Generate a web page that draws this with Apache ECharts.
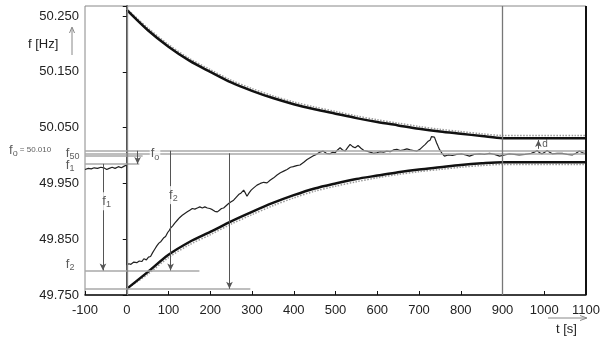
<!DOCTYPE html>
<html>
<head>
<meta charset="utf-8">
<script src="https://cdn.jsdelivr.net/npm/echarts@6.0.0/dist/echarts.min.js"></script>
<style>
  html, body { margin: 0; padding: 0; background: #fff; }
  #chart { width: 609px; height: 341px; }
</style>
</head>
<body>
<div id="chart"></div>
<script>
// measured frequency (t [s], f [Hz])
const signal = [
  [-100, 49.975], [-92, 49.977], [-85, 49.976], [-78, 49.978], [-70, 49.977], [-62, 49.979],
  [-55, 49.978], [-48, 49.975], [-42, 49.977], [-35, 49.979], [-28, 49.977], [-20, 49.980],
  [-13, 49.978], [-6, 49.981], [0, 49.983], [0, 49.804],
  [5, 49.806], [10, 49.805], [17, 49.809], [24, 49.808], [30, 49.811], [36, 49.810],
  [41, 49.815], [47, 49.813], [52, 49.818], [57, 49.819], [62, 49.826], [67, 49.832],
  [72, 49.838], [77, 49.843], [82, 49.846], [88, 49.852], [93, 49.855], [98, 49.862],
  [102, 49.866], [105, 49.870], [110, 49.874], [115, 49.879], [121, 49.884], [127, 49.889],
  [133, 49.893], [139, 49.896], [145, 49.899], [151, 49.902], [157, 49.905], [163, 49.904],
  [169, 49.906], [175, 49.908], [181, 49.906], [187, 49.908], [193, 49.906], [199, 49.905],
  [205, 49.903], [211, 49.900], [217, 49.899], [222, 49.902], [227, 49.905], [232, 49.906],
  [238, 49.910], [244, 49.914], [250, 49.917], [256, 49.920], [262, 49.925], [268, 49.930],
  [274, 49.933], [280, 49.938], [284, 49.933], [288, 49.927], [293, 49.933], [298, 49.938],
  [304, 49.942], [312, 49.947], [320, 49.950], [328, 49.952], [336, 49.951], [344, 49.956],
  [352, 49.960], [360, 49.965], [368, 49.969], [376, 49.972], [384, 49.975], [392, 49.979],
  [399, 49.980], [407, 49.982], [415, 49.983], [424, 49.988], [432, 49.993], [439, 49.996],
  [446, 49.999], [454, 50.002], [462, 50.006], [470, 50.008], [478, 50.004], [487, 50.003],
  [493, 50.006], [499, 50.005], [505, 50.010], [511, 50.014], [517, 50.010], [523, 50.008],
  [529, 50.014], [535, 50.020], [541, 50.016], [547, 50.014], [554, 50.018], [561, 50.013],
  [568, 50.009], [575, 50.008], [583, 50.006], [591, 50.004], [599, 50.005], [607, 50.007],
  [615, 50.006], [623, 50.008], [631, 50.007], [639, 50.010], [647, 50.011], [655, 50.009],
  [663, 50.010], [671, 50.012], [679, 50.010], [687, 50.009], [695, 50.008], [702, 50.011],
  [709, 50.016], [715, 50.020], [721, 50.025], [727, 50.028], [730, 50.034], [733, 50.031],
  [737, 50.033], [742, 50.023], [746, 50.016], [749, 50.011], [755, 50.004], [761, 49.999],
  [770, 50.001], [780, 50.000], [790, 50.002], [802, 50.003], [812, 50.001], [821, 49.999],
  [832, 50.002], [845, 50.003], [857, 50.002], [869, 50.004], [881, 50.002], [893, 49.999],
  [905, 50.001], [916, 50.003], [928, 50.002], [940, 50.001], [954, 50.002], [969, 50.004],
  [976, 50.006], [983, 50.009], [989, 50.005], [995, 50.003], [1001, 50.006], [1007, 50.009],
  [1013, 50.006], [1019, 50.003], [1031, 50.004], [1043, 50.004], [1055, 50.002], [1067, 50.001],
  [1076, 50.004], [1084, 50.008], [1092, 50.005], [1100, 50.003]
];

// envelope curves
const envT      = [0, 50, 100, 150, 200, 250, 300, 350, 400, 450, 500, 550, 600, 650, 700, 750, 800, 850, 900, 1100];
const upperF    = [50.261, 50.225, 50.195, 50.170, 50.150, 50.131, 50.116, 50.103, 50.092, 50.083, 50.075, 50.067, 50.060, 50.054, 50.048, 50.043, 50.039, 50.035, 50.031, 50.031];
const upperDotF = [50.263, 50.229, 50.199, 50.174, 50.154, 50.135, 50.120, 50.107, 50.096, 50.087, 50.079, 50.071, 50.064, 50.058, 50.052, 50.047, 50.043, 50.039, 50.036, 50.036];
const lowerF    = [49.761, 49.791, 49.822, 49.845, 49.863, 49.882, 49.899, 49.915, 49.929, 49.941, 49.950, 49.958, 49.964, 49.970, 49.975, 49.979, 49.983, 49.986, 49.988, 49.988];
const lowerDotF = [49.761, 49.787, 49.817, 49.840, 49.858, 49.877, 49.894, 49.910, 49.924, 49.936, 49.945, 49.953, 49.960, 49.966, 49.971, 49.975, 49.979, 49.982, 49.984, 49.984];

// reference levels [t1, f1, t2, f2]
const refLines = [
  [-100, 50.0085, 1100, 50.0085],
  [-100, 50.0040, 1100, 50.0040],
  [-100, 49.9995, 38, 49.9995],
  [-100, 49.9850, 30, 49.9850],
  [-100, 49.7940, 174, 49.7940],
  [-100, 49.7610, 296, 49.7610]
];
const vLines = [[0, '#888'], [900, '#777'], [1100, '#111']];

// arrows [t1, f1, t2, f2] (head at second point)
const arrows = [
  [-57, 49.985, -57, 49.794],
  [105, 50.0085, 105, 49.794],
  [246, 50.0040, 246, 49.761],
  [26, 50.0085, 26, 49.985],
  [986, 50.012, 986, 50.028]
];

// text annotations
const notes = [
  { t: -282, f: 50.0099, text: '{f|f}{s|o}{e| = 50.010}' },
  { t: -146, f: 50.0040, text: '{f|f}{s|50}' },
  { t: -146, f: 49.9830, text: '{f|f}{s|1}' },
  { t: -146, f: 49.8050, text: '{f|f}{s|2}' },
  { t: -61,  f: 49.9180, text: '{f|f}{s|1}', bg: true },
  { t: 99,   f: 49.9290, text: '{f|f}{s|2}', bg: true },
  { t: 55,   f: 50.0030, text: '{f|f}{s|o}', bg: true },
  { t: 995,  f: 50.0210, text: '{d|d}' }
];

const yTicks = [49.75, 49.85, 49.95, 50.05, 50.15, 50.25];
const FONT = "'Liberation Sans', Arial, sans-serif";

const chart = echarts.init(document.getElementById('chart'));

const seg = (r) => [{ coord: [r[0], r[1]] }, { coord: [r[2], r[3]] }];
const arrowSeg = (r) => [
  { coord: [r[0], r[1]], symbol: 'none' },
  { coord: [r[2], r[3]], symbol: 'arrow', symbolSize: [5, 7] }
];

const option = {
  animation: false,
  backgroundColor: '#fff',
  grid: { left: 85, right: 23, top: 6, bottom: 46, show: true, borderColor: '#888', borderWidth: 1, outerBoundsMode: 'none' },
  xAxis: {
    type: 'value', min: -100, max: 1100, interval: 100,
    axisLine: { lineStyle: { color: '#111', width: 1.5 } },
    axisTick: { inside: true, length: 4, lineStyle: { color: '#111' } },
    axisLabel: { color: '#222', fontSize: 13, fontFamily: FONT, margin: 9, formatter: (v) => String(v) },
    splitLine: { show: false }
  },
  yAxis: {
    type: 'value', min: 49.75, max: 50.268, interval: 0.1,
    axisLine: { show: true, lineStyle: { color: '#111', width: 1.5 } },
    axisTick: { show: true, inside: false, length: 4, lineStyle: { color: '#111' } },
    axisLabel: {
      color: '#222', fontSize: 13, fontFamily: FONT, margin: 6,
      formatter: (v) => yTicks.some((t) => Math.abs(t - v) < 1e-6) ? v.toFixed(3) : ''
    },
    splitLine: { show: false }
  },
  graphic: [
    { type: 'text', left: 28, top: 38, style: { text: 'f [Hz]', fontSize: 13, fontFamily: FONT, fill: '#222' } },
    { type: 'line', shape: { x1: 72, y1: 55, x2: 72, y2: 28 }, style: { stroke: '#888', lineWidth: 1 } },
    { type: 'polyline', shape: { points: [[69.5, 33], [72, 27], [74.5, 33]] }, style: { stroke: '#888', lineWidth: 1, fill: null } },
    { type: 'text', left: 556, top: 323, style: { text: 't [s]', fontSize: 13, fontFamily: FONT, fill: '#222' } },
    { type: 'line', shape: { x1: 548, y1: 318, x2: 586, y2: 318 }, style: { stroke: '#888', lineWidth: 1 } },
    { type: 'polyline', shape: { points: [[580, 315.5], [587, 318], [580, 320.5]] }, style: { stroke: '#888', lineWidth: 1, fill: null } }
  ],
  series: [
    {
      name: 'ref', type: 'line', data: [], silent: true,
      markLine: {
        silent: true, symbol: ['none', 'none'], label: { show: false },
        lineStyle: { color: '#a8a8a8', width: 1.5, type: 'solid' },
        data: refLines.map(seg).concat(vLines.map((v) => [
          { coord: [v[0], 49.75], lineStyle: { color: v[1], width: v[0] === 1100 ? 2 : 1.3 } },
          { coord: [v[0], 50.268] }
        ]))
      }
    },
    {
      name: 'arrows', type: 'line', data: [], silent: true,
      markLine: {
        silent: true, symbol: ['none', 'arrow'], symbolSize: 7, label: { show: false },
        lineStyle: { color: '#555', width: 1, type: 'solid' },
        itemStyle: { color: '#555' },
        data: arrows.map(arrowSeg)
      }
    },
    {
      name: 'upperDot', type: 'line', symbol: 'none', smooth: 0.3,
      data: envT.map((t, i) => [t, upperDotF[i]]),
      lineStyle: { color: '#999', width: 1.5, type: 'dotted' }
    },
    {
      name: 'lowerDot', type: 'line', symbol: 'none', smooth: 0.3,
      data: envT.map((t, i) => [t, lowerDotF[i]]),
      lineStyle: { color: '#999', width: 1.5, type: 'dotted' }
    },
    {
      name: 'upper', type: 'line', symbol: 'none', smooth: 0.3,
      data: envT.map((t, i) => [t, upperF[i]]),
      lineStyle: { color: '#111', width: 2.5 }
    },
    {
      name: 'lower', type: 'line', symbol: 'none', smooth: 0.3,
      data: envT.map((t, i) => [t, lowerF[i]]),
      lineStyle: { color: '#111', width: 2.5 }
    },
    {
      name: 'signal', type: 'line', symbol: 'none',
      data: signal,
      lineStyle: { color: '#222', width: 1.2 }
    },
    {
      name: 'notes', type: 'scatter', clip: false, z: 10, silent: true,
      symbolSize: 1, itemStyle: { color: 'rgba(0,0,0,0)' },
      data: notes.map((n) => ({
        value: [n.t, n.f], text: n.text,
        label: n.bg ? { backgroundColor: '#fff', padding: [1, 1] } : {}
      })),
      label: {
        show: true, position: 'inside', align: 'left', verticalAlign: 'middle',
        formatter: (p) => p.data.text,
        rich: {
          f: { fontSize: 13, fontFamily: FONT, color: '#333', lineHeight: 16 },
          s: { fontSize: 9, fontFamily: FONT, color: '#333', verticalAlign: 'bottom', lineHeight: 10 },
          e: { fontSize: 8, fontFamily: FONT, color: '#333', lineHeight: 16 },
          d: { fontSize: 10, fontFamily: FONT, color: '#333' }
        }
      }
    }
  ]
};

chart.setOption(option);
</script>
</body>
</html>
